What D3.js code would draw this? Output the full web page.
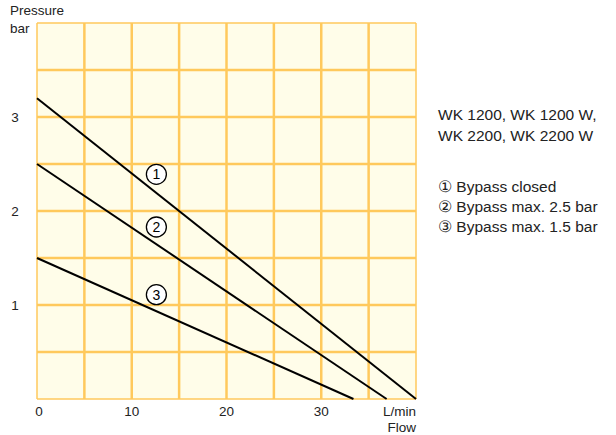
<!DOCTYPE html>
<html>
<head>
<meta charset="utf-8">
<script src="https://cdn.jsdelivr.net/npm/d3@7"></script>
<style>
  body { margin: 0; background: #fff; }
  svg { display: block; font-family: "Liberation Sans", Arial, sans-serif; }
</style>
</head>
<body>
<svg id="chart"></svg>
<script>
// Pump curves: pressure (bar) vs flow (L/min), straight lines from y-intercept to x-intercept
const curveIds = ['1', '2', '3'];
const curveStart = [[0, 3.2], [0, 2.5], [0, 1.5]];
const curveEnd = [[40, 0], [36.9, 0], [33.4, 0]];
// Where the circled numbers sit (data coords)
const labelPos = [[12.6, 2.39], [12.6, 1.83], [12.6, 1.11]];

const xTicks = [0, 10, 20, 30];
const yTicks = [1, 2, 3];
const xGrid = d3.range(0, 40.01, 5);
const yGrid = d3.range(0, 4.01, 0.5);

const titleLines = ['WK 1200, WK 1200 W,', 'WK 2200, WK 2200 W'];
const legendLines = ['\u2460 Bypass closed', '\u2461 Bypass max. 2.5 bar', '\u2462 Bypass max. 1.5 bar'];

const width = 616, height = 435;
const plot = { left: 37, right: 416, top: 23, bottom: 399 };

const svg = d3.select('#chart')
  .attr('width', width)
  .attr('height', height);

const x = d3.scaleLinear().domain([0, 40]).range([plot.left, plot.right]);
const y = d3.scaleLinear().domain([0, 4]).range([plot.bottom, plot.top]);

// background
svg.append('rect')
  .attr('x', plot.left)
  .attr('y', plot.top)
  .attr('width', plot.right - plot.left)
  .attr('height', plot.bottom - plot.top)
  .attr('fill', '#fffde9');

// grid
const grid = svg.append('g').attr('stroke', '#ffc95c');
grid.selectAll('.vg')
  .data(xGrid)
  .join('line')
  .attr('x1', d => x(d)).attr('x2', d => x(d))
  .attr('y1', plot.top).attr('y2', plot.bottom)
  .attr('stroke-width', d => (d === 0 || d === 40) ? 1.5 : 2.5);
grid.selectAll('.hg')
  .data(yGrid)
  .join('line')
  .attr('y1', d => y(d)).attr('y2', d => y(d))
  .attr('x1', plot.left).attr('x2', plot.right)
  .attr('stroke-width', d => (d === 0 || d === 4) ? 1.5 : 2.5);

// curves
const lineGen = d3.line().x(d => x(d[0])).y(d => y(d[1]));
svg.append('g')
  .selectAll('path')
  .data(curveIds.map((id, i) => [curveStart[i], curveEnd[i]]))
  .join('path')
  .attr('d', lineGen)
  .attr('fill', 'none')
  .attr('stroke', '#000')
  .attr('stroke-width', 2);

// circled numbers
const marks = svg.append('g')
  .selectAll('g')
  .data(curveIds)
  .join('g')
  .attr('transform', (d, i) => `translate(${x(labelPos[i][0])},${y(labelPos[i][1])})`);
marks.append('circle')
  .attr('r', 10)
  .attr('fill', '#fff')
  .attr('stroke', '#000')
  .attr('stroke-width', 1.3);
marks.append('text')
  .attr('text-anchor', 'middle')
  .attr('dy', '0.36em')
  .attr('font-size', 14)
  .attr('fill', '#000')
  .text(d => d);

// axis labels
const txt = svg.append('g').attr('fill', '#222').attr('font-size', 13.5);
txt.selectAll('.xt')
  .data(xTicks)
  .join('text')
  .attr('x', d => x(d) + (d === 0 ? 2 : 0))
  .attr('y', 416)
  .attr('text-anchor', 'middle')
  .text(d => d);
txt.selectAll('.yt')
  .data(yTicks)
  .join('text')
  .attr('x', 15)
  .attr('y', d => y(d))
  .attr('dy', '0.36em')
  .attr('text-anchor', 'middle')
  .text(d => d);

txt.append('text').attr('x', 10).attr('y', 15).text('Pressure');
txt.append('text').attr('x', 10).attr('y', 33).text('bar');
txt.append('text').attr('x', plot.right).attr('y', 416).attr('text-anchor', 'end').text('L/min');
txt.append('text').attr('x', plot.right).attr('y', 432).attr('text-anchor', 'end').text('Flow');

// legend block
const leg = svg.append('g').attr('fill', '#222').attr('font-size', 15.5);
leg.selectAll('.tl')
  .data(titleLines)
  .join('text')
  .attr('x', 438)
  .attr('y', (d, i) => 120 + i * 21)
  .text(d => d);
leg.selectAll('.ll')
  .data(legendLines)
  .join('text')
  .attr('x', 438)
  .attr('y', (d, i) => 192 + i * 20)
  .text(d => d);
</script>
</body>
</html>
